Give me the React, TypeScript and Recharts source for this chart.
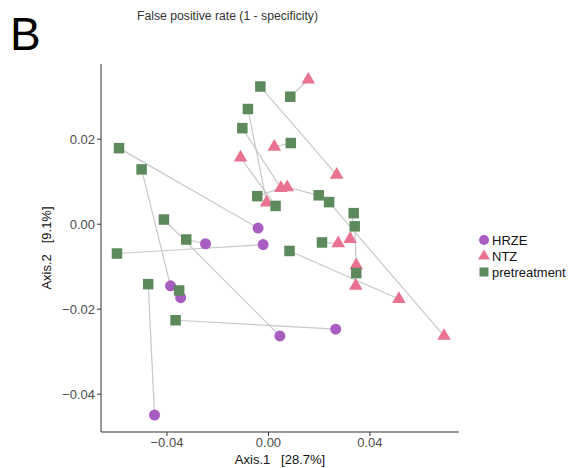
import React from "react";
import { ScatterChart, Scatter, XAxis, YAxis } from "recharts";

// PCoA coordinates: [Axis.1, Axis.2]
const HRZE: [number, number][] = [
  [-0.0041, -0.0009],
  [-0.0021, -0.0048],
  [-0.0248, -0.0046],
  [-0.0386, -0.0145],
  [-0.0346, -0.0173],
  [0.0045, -0.0263],
  [0.0265, -0.0247],
  [-0.0449, -0.0449],
];

const NTZ: [number, number][] = [
  [0.0157, 0.034],
  [0.0023, 0.0182],
  [-0.011, 0.0157],
  [0.0269, 0.0116],
  [0.0049, 0.0085],
  [0.0074, 0.0087],
  [-0.0007, 0.0051],
  [0.0275, -0.0045],
  [0.0322, -0.0035],
  [0.0346, -0.0097],
  [0.0344, -0.0145],
  [0.0514, -0.0176],
  [0.0692, -0.0263],
];

const PRETREATMENT: [number, number][] = [
  [-0.0032, 0.0324],
  [0.0086, 0.03],
  [-0.0081, 0.0271],
  [-0.0103, 0.0226],
  [0.0088, 0.0191],
  [-0.0589, 0.0179],
  [-0.05, 0.0129],
  [-0.0044, 0.0066],
  [0.0028, 0.0043],
  [0.0198, 0.0068],
  [0.0239, 0.0052],
  [-0.0412, 0.0011],
  [0.0336, 0.0026],
  [0.034, -0.0005],
  [-0.0324, -0.0036],
  [0.0211, -0.0043],
  [-0.0597, -0.0069],
  [0.0083, -0.0063],
  [0.0346, -0.0115],
  [-0.0474, -0.0141],
  [-0.0352, -0.0156],
  [-0.0366, -0.0226],
];

// pretreatment index -> treated group, index
const LINKS: [number, "HRZE" | "NTZ", number][] = [
  [0, "NTZ", 3],
  [1, "NTZ", 0],
  [2, "NTZ", 6],
  [3, "NTZ", 4],
  [4, "NTZ", 1],
  [5, "HRZE", 0],
  [6, "HRZE", 3],
  [7, "NTZ", 4],
  [8, "NTZ", 2],
  [9, "NTZ", 5],
  [10, "NTZ", 12],
  [11, "HRZE", 5],
  [12, "NTZ", 8],
  [13, "NTZ", 9],
  [14, "HRZE", 2],
  [15, "NTZ", 7],
  [16, "HRZE", 1],
  [17, "NTZ", 11],
  [18, "NTZ", 10],
  [19, "HRZE", 7],
  [20, "HRZE", 4],
  [21, "HRZE", 6],
];

const GROUPS = ["HRZE", "NTZ", "pretreatment"];
const X_TICKS = [-0.04, 0, 0.04];
const Y_TICKS = [-0.04, -0.02, 0, 0.02];

const COLORS = { HRZE: "#a85dc0", NTZ: "#e8728f", pretreatment: "#5d8a5c" };
const FONT = "'Liberation Sans', Arial, Helvetica, sans-serif";

const toPts = (arr: [number, number][]) => arr.map(([x, y]) => ({ x, y }));

const fmt = (v: number) => (v < 0 ? "\u2212" + Math.abs(v).toFixed(2) : v.toFixed(2));

const Circle = (p: any) => <circle cx={p.cx} cy={p.cy} r={5.5} fill={COLORS.HRZE} />;
const Tri = (p: any) => (
  <polygon
    points={`${p.cx},${p.cy - 7.8} ${p.cx - 6.8},${p.cy + 3.9} ${p.cx + 6.8},${p.cy + 3.9}`}
    fill={COLORS.NTZ}
  />
);
const Sq = (p: any) => (
  <rect x={p.cx - 5.25} y={p.cy - 5.25} width={10.5} height={10.5} fill={COLORS.pretreatment} />
);
const Nothing = () => <g />;

export default function App() {
  const treated: any = { HRZE, NTZ };
  const axisTick = { fill: "#4d4d4d", fontSize: 13, fontFamily: FONT };

  return (
    <div style={{ position: "absolute", left: 0, top: 0, width: 582, height: 468 }}>
      <ScatterChart width={582} height={468} margin={{ top: 64, right: 123, bottom: 0, left: 0 }}>
        <XAxis
          type="number"
          dataKey="x"
          domain={[-0.066, 0.0751]}
          allowDataOverflow
          ticks={X_TICKS}
          tickFormatter={fmt}
          height={36}
          tickSize={4}
          stroke="#333"
          tick={axisTick}
          label={{
            value: "Axis.1\u00a0\u00a0\u00a0[28.7%]",
            position: "insideBottom",
            offset: 4,
            fill: "#111",
            fontSize: 13,
            fontFamily: FONT,
          }}
        />
        <YAxis
          type="number"
          dataKey="y"
          domain={[-0.0489, 0.0377]}
          allowDataOverflow
          ticks={Y_TICKS}
          tickFormatter={fmt}
          width={101}
          tickSize={4}
          stroke="#333"
          tick={axisTick}
          label={{
            value: "Axis.2\u00a0\u00a0\u00a0[9.1%]",
            angle: -90,
            position: "insideLeft",
            offset: 46,
            style: { textAnchor: "middle" },
            fill: "#111",
            fontSize: 13,
            fontFamily: FONT,
          }}
        />
        {LINKS.map(([p, g, t], i) => (
          <Scatter
            key={"l" + i}
            data={toPts([PRETREATMENT[p], treated[g][t]])}
            fill="#c9c9c9"
            line={{ stroke: "#c9c9c9", strokeWidth: 1.2 }}
            shape={Nothing}
            isAnimationActive={false}
          />
        ))}
        <Scatter name="HRZE" data={toPts(HRZE)} shape={Circle} isAnimationActive={false} />
        <Scatter name="NTZ" data={toPts(NTZ)} shape={Tri} isAnimationActive={false} />
        <Scatter name="pretreatment" data={toPts(PRETREATMENT)} shape={Sq} isAnimationActive={false} />
      </ScatterChart>
      <svg
        width={582}
        height={468}
        style={{ position: "absolute", left: 0, top: 0, pointerEvents: "none" }}
      >
        <text x={10} y={50} fontSize={46} fontFamily={FONT} fill="#000">
          B
        </text>
        <text
          x={137}
          y={20}
          fontSize={12.5}
          fontFamily={FONT}
          fill="#333"
          textLength={181}
          lengthAdjust="spacingAndGlyphs"
        >
          False positive rate (1 - specificity)
        </text>
        {GROUPS.map((g, i) => {
          const cy = 240 + i * 16;
          const col = (COLORS as any)[g];
          return (
            <g key={g}>
              {i === 0 && <circle cx={484} cy={cy} r={5} fill={col} />}
              {i === 1 && (
                <polygon points={`484,${cy - 6.5} 478,${cy + 3.5} 490,${cy + 3.5}`} fill={col} />
              )}
              {i === 2 && <rect x={479.5} y={cy - 4.5} width={9} height={9} fill={col} />}
              <text x={492} y={cy + 4.5} fontSize={13} fontFamily={FONT} fill="#111">
                {g}
              </text>
            </g>
          );
        })}
      </svg>
    </div>
  );
}
